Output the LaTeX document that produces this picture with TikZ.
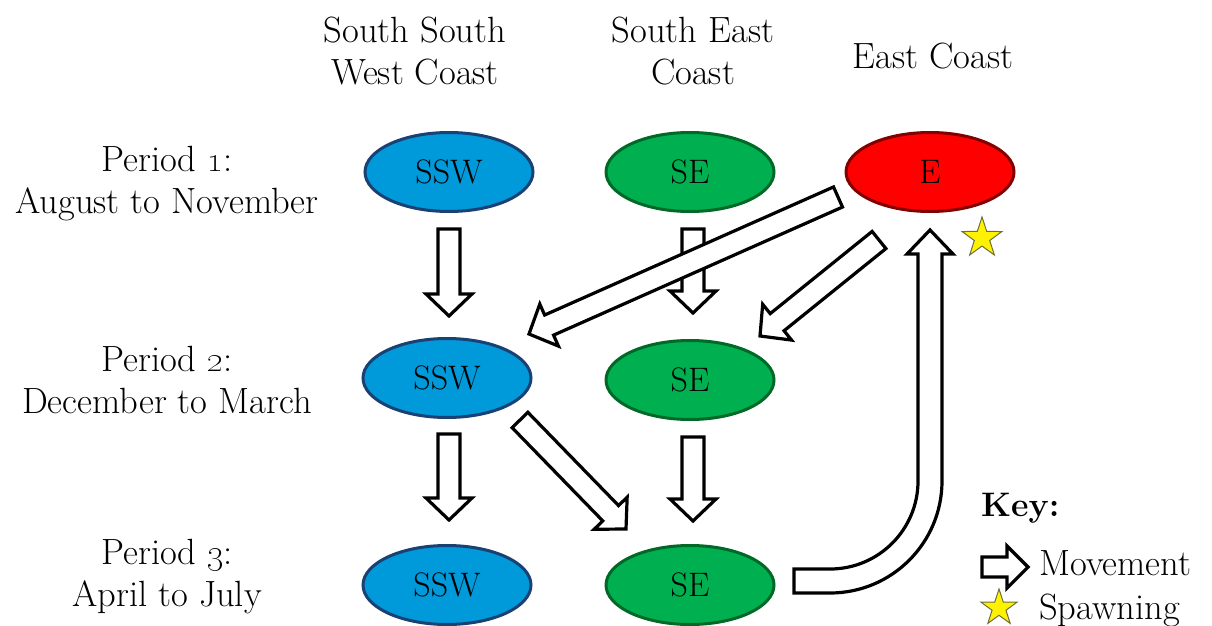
\documentclass[tikz,border=0pt]{standalone}
\usetikzlibrary{calc,shapes.geometric}
\definecolor{sswfill}{RGB}{0,153,218}
\definecolor{sswline}{RGB}{25,65,115}
\definecolor{sefill}{RGB}{0,176,80}
\definecolor{seline}{RGB}{0,105,40}
\definecolor{efill}{RGB}{255,0,0}
\definecolor{eline}{RGB}{130,0,0}
\definecolor{starline}{RGB}{110,110,60}
\newcommand\ArrSW{11pt}
\newcommand\ArrHW{23pt}
\newcommand\ArrHL{22pt}
\newcommand\blockarrow[2]{%
  \draw[blockline] let \p1=(#1), \p2=(#2),
    \n1={atan2(\y2-\y1,\x2-\x1)}, \n2={veclen(\x2-\x1,\y2-\y1)} in
    ($(\p1)+(\n1+90:\ArrSW)$)
    -- ($(\p1)+(\n1:{\n2-\ArrHL})+(\n1+90:\ArrSW)$)
    -- ($(\p1)+(\n1:{\n2-\ArrHL})+(\n1+90:\ArrHW)$)
    -- (\p2)
    -- ($(\p1)+(\n1:{\n2-\ArrHL})+(\n1-90:\ArrHW)$)
    -- ($(\p1)+(\n1:{\n2-\ArrHL})+(\n1-90:\ArrSW)$)
    -- ($(\p1)+(\n1-90:\ArrSW)$) -- cycle;}
\begin{document}
\begin{tikzpicture}[x=1pt,y=-1pt,
  blockline/.style={draw=black,fill=white,line width=3.2pt,line join=miter},
  region/.style={ellipse,minimum width=168pt,minimum height=79pt,inner sep=0pt,
     line width=3pt,font=\fontsize{34}{40}\selectfont},
  sswnode/.style={region,draw=sswline,fill=sswfill},
  senode/.style={region,draw=seline,fill=sefill},
  enode/.style={region,draw=eline,fill=efill},
  lab/.style={align=center,font=\fontsize{36.5}{42}\selectfont,inner sep=0pt},
  spawnstar/.style={star,star points=5,star point ratio=2.6,inner sep=0pt,
     fill=yellow,draw=starline,line width=1pt}]
\useasboundingbox (0,0) rectangle (1212,626);
% headers
\node[lab] (h1) at (415,51) {South South\\West Coast};
\node[lab] (h2) at (693,51) {South East\\Coast};
\node[lab] (h3) at (933,56) {East Coast};
% period labels
\node[lab] (p1) at (167,184) {Period \oldstylenums{1}:\\August to November};
\node[lab] (p2) at (167,380) {Period \oldstylenums{2}:\\December to March};
\node[lab] (p3) at (167,577) {Period \oldstylenums{3}:\\April to July};
% regions
\node[sswnode] (ssw1) at (449,172) {SSW};
\node[senode]  (se1)  at (690,172) {SE};
\node[enode]   (e1)   at (930,172) {E};
\node[sswnode] (ssw2) at (447,378) {SSW};
\node[senode]  (se2)  at (690,380) {SE};
\node[sswnode] (ssw3) at (447,585) {SSW};
\node[senode]  (se3)  at (690,585) {SE};
% arrow end points
\coordinate (a1s) at (449,229); \coordinate (a1t) at (449,316);
\coordinate (a2s) at (449,434); \coordinate (a2t) at (449,520);
\coordinate (a3s) at (693,229); \coordinate (a3t) at (693,313);
\coordinate (a4s) at (693,437); \coordinate (a4t) at (693,521);
\coordinate (a5s) at (520,420); \coordinate (a5t) at (626,529);
\coordinate (a6s) at (838,197); \coordinate (a6t) at (529,334);
\coordinate (a7s) at (879,240); \coordinate (a7t) at (760,336);
\coordinate (c3s) at (794,581); \coordinate (c3t) at (930,230);
% movements
\blockarrow{a1s}{a1t}
\blockarrow{a2s}{a2t}
\blockarrow{a3s}{a3t}
\blockarrow{a4s}{a4t}
\blockarrow{a5s}{a5t}
\blockarrow{a6s}{a6t}
\blockarrow{a7s}{a7t}
% curved movement SE (period 3) to E
\draw[blockline] let \p1=(c3s), \p2=(c3t) in
  (\x1,{\y1-12pt}) -- ({\x2-100pt},{\y1-12pt})
  arc[start angle=-90,end angle=0,radius=112pt]
  -- ({\x2+12pt},{\y2-24pt}) -- ({\x2+23pt},{\y2-24pt}) -- (\p2)
  -- ({\x2-23pt},{\y2-24pt}) -- ({\x2-12pt},{\y2-24pt})
  -- ({\x2-12pt},{\y1+100pt})
  arc[start angle=0,end angle=-90,radius=88pt]
  -- (\x1,{\y1+12pt}) -- cycle;
% spawning star
\node[spawnstar,minimum size=42pt] (s1) at (982,238) {};
% key
\node[lab,anchor=base west,font=\fontsize{34}{42}\selectfont\bfseries] (key) at (981,516) {Key:};
\coordinate (k1s) at (982,567); \coordinate (k1t) at (1028,567);
{\renewcommand\ArrSW{10pt}\renewcommand\ArrHW{21pt}\renewcommand\ArrHL{21pt}%
 \blockarrow{k1s}{k1t}}
\node[lab,anchor=base west] (kmov) at (1039,575) {Movement};
\node[spawnstar,minimum size=38pt] (s2) at (999,608) {};
\node[lab,anchor=base west] (kspawn) at (1039,619) {Spawning};
\end{tikzpicture}
\end{document}
